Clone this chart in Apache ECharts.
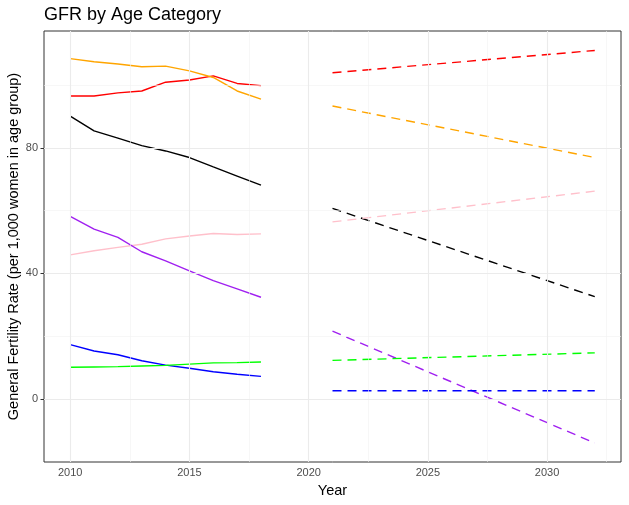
<!DOCTYPE html>
<html>
<head>
<meta charset="utf-8">
<script src="https://cdn.jsdelivr.net/npm/echarts@6/dist/echarts.min.js"></script>
<style>
html,body{margin:0;padding:0;background:#fff;}
#chart{width:629px;height:505px;}
</style>
</head>
<body>
<div id="chart"></div>
<script>
// ---- data ----
const years = [2010, 2011, 2012, 2013, 2014, 2015, 2016, 2017, 2018];
const projYears = [2021, 2032];

const blackObs  = [90.1, 85.4, 83.1, 80.7, 79.0, 76.9, 73.9, 71.0, 68.1];
const redObs    = [96.5, 96.5, 97.5, 98.1, 100.9, 101.6, 102.9, 100.5, 99.8];
const orangeObs = [108.4, 107.4, 106.7, 105.8, 106.0, 104.5, 102.4, 98.1, 95.5];
const pinkObs   = [45.9, 47.2, 48.3, 49.3, 51.0, 51.9, 52.7, 52.4, 52.6];
const purpleObs = [58.2, 54.1, 51.5, 46.9, 44.0, 40.8, 37.7, 35.1, 32.4];
const blueObs   = [17.3, 15.3, 14.1, 12.2, 10.8, 9.8, 8.7, 7.9, 7.2];
const greenObs  = [10.1, 10.2, 10.3, 10.5, 10.7, 11.1, 11.5, 11.6, 11.8];

const blackProj  = [60.7, 32.6];
const redProj    = [103.9, 111.0];
const orangeProj = [93.3, 76.9];
const pinkProj   = [56.4, 66.2];
const purpleProj = [21.6, -14.0];
const blueProj   = [2.65, 2.65];
const greenProj  = [12.3, 14.7];

const xTicks = [2010, 2015, 2020, 2025, 2030];
const xMinor = [2012.5, 2017.5, 2022.5, 2027.5, 2032.5];
const yTicks = [0, 40, 80];
const yMinor = [20, 60, 100];

// ---- build ----
const groups = [
  {c: '#000000', obs: blackObs,  proj: blackProj},
  {c: '#FF0000', obs: redObs,    proj: redProj},
  {c: '#FFA500', obs: orangeObs, proj: orangeProj},
  {c: '#FFC0CB', obs: pinkObs,   proj: pinkProj},
  {c: '#A020F0', obs: purpleObs, proj: purpleProj},
  {c: '#0000FF', obs: blueObs,   proj: blueProj},
  {c: '#00FF00', obs: greenObs,  proj: greenProj}
];

const XMIN = 2008.9, XMAX = 2033.1, YMIN = -20.06, YMAX = 117.2;
const FONT = 'Liberation Sans, Arial, sans-serif';

const gridData = [];
xMinor.forEach(v => gridData.push({xAxis: v, lineStyle: {color: '#F2F2F2', width: 0.6, type: 'solid'}}));
yMinor.forEach(v => gridData.push({yAxis: v, lineStyle: {color: '#F2F2F2', width: 0.6, type: 'solid'}}));
xTicks.forEach(v => gridData.push({xAxis: v, lineStyle: {color: '#EBEBEB', width: 1.1, type: 'solid'}}));
yTicks.forEach(v => gridData.push({yAxis: v, lineStyle: {color: '#EBEBEB', width: 1.1, type: 'solid'}}));

const series = [{
  type: 'line', data: [[2010, 0]], symbol: 'none', z: 1,
  lineStyle: {opacity: 0}, silent: true,
  markLine: {silent: true, symbol: ['none', 'none'], label: {show: false}, animation: false, data: gridData}
}];
groups.forEach(g => {
  series.push({
    type: 'line', z: 3, symbol: 'none', animation: false,
    data: years.map((y, i) => [y, g.obs[i]]),
    lineStyle: {color: g.c, width: 1.4, type: 'solid'}
  });
  series.push({
    type: 'line', z: 3, symbol: 'none', animation: false,
    data: projYears.map((y, i) => [y, g.proj[i]]),
    lineStyle: {color: g.c, width: 1.4, type: [9, 6]}
  });
});

const chart = echarts.init(document.getElementById('chart'), null, {renderer: 'canvas'});
chart.setOption({
  animation: false,
  backgroundColor: '#ffffff',
  textStyle: {fontFamily: FONT},
  title: {
    text: 'GFR by Age Category', left: 39, top: 1,
    textStyle: {fontSize: 18, fontWeight: 'normal', color: '#000', fontFamily: FONT}
  },
  grid: {left: 44, right: 8, top: 31, bottom: 43, show: true, borderColor: '#333333', borderWidth: 1, backgroundColor: 'transparent'},
  xAxis: {
    type: 'value', min: XMIN, max: XMAX,
    axisLine: {show: false},
    splitLine: {show: false},
    axisTick: {show: true, customValues: xTicks, length: 3.5, lineStyle: {color: '#333333', width: 1}},
    axisLabel: {customValues: xTicks, color: '#4D4D4D', fontSize: 11, margin: 5, fontFamily: FONT,
      formatter: v => String(Math.round(v))}
  },
  yAxis: {
    type: 'value', min: YMIN, max: YMAX,
    axisLine: {show: false},
    splitLine: {show: false},
    axisTick: {show: true, customValues: yTicks, length: 3.5, lineStyle: {color: '#333333', width: 1}},
    axisLabel: {customValues: yTicks, color: '#4D4D4D', fontSize: 11, margin: 6, fontFamily: FONT,
      formatter: v => String(Math.round(v))}
  },
  graphic: [
    {type: 'text', x: 332.5, y: 491, style: {text: 'Year', fontSize: 14.5, fill: '#000', fontFamily: FONT, align: 'center', verticalAlign: 'middle'}},
    {type: 'text', x: 14, y: 246.5, rotation: Math.PI / 2,
      style: {text: 'General Fertility Rate (per 1,000 women in age group)', fontSize: 14.5, fill: '#000', fontFamily: FONT, align: 'center', verticalAlign: 'middle'}}
  ],
  series: series
});
</script>
</body>
</html>
